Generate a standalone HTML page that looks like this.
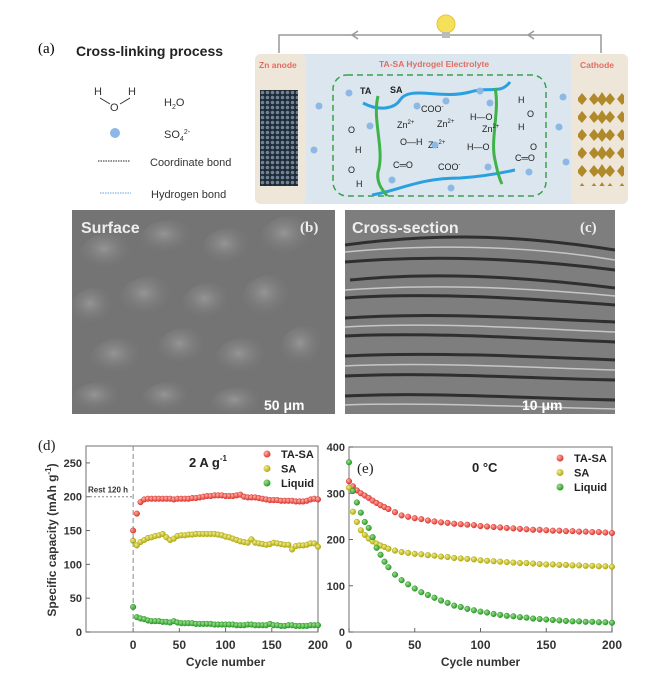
<!DOCTYPE html>
<html><head><meta charset="utf-8">
<style>
body{margin:0;background:#fff;}
#root{position:relative;width:650px;height:684px;overflow:hidden;font-family:"Liberation Sans",sans-serif;}
</style></head>
<body>
<div id="root">
<svg width="650" height="684" style="position:absolute;left:0;top:0">
<defs>
<radialGradient id="gr" cx="35%" cy="35%" r="65%"><stop offset="0" stop-color="#ffb0a8"/><stop offset="1" stop-color="#e03a2e"/></radialGradient>
<radialGradient id="gy" cx="35%" cy="35%" r="65%"><stop offset="0" stop-color="#f0ec90"/><stop offset="1" stop-color="#b5aa12"/></radialGradient>
<radialGradient id="gg" cx="35%" cy="35%" r="65%"><stop offset="0" stop-color="#9ee08e"/><stop offset="1" stop-color="#2d9a2a"/></radialGradient>
<radialGradient id="blob" cx="40%" cy="35%" r="60%"><stop offset="0" stop-color="#959595"/><stop offset="1" stop-color="#6a6a6a" stop-opacity="0"/></radialGradient>
<clipPath id="clipb"><rect x="72" y="210" width="263" height="204"/></clipPath>
<clipPath id="clipc"><rect x="345" y="210" width="270" height="204"/></clipPath>
<pattern id="zn" width="5" height="5" patternUnits="userSpaceOnUse"><rect width="5" height="5" fill="#1f2a36"/><circle cx="2.5" cy="2.5" r="1.8" fill="#6f8396"/></pattern>
<pattern id="cat" width="28" height="18" patternUnits="userSpaceOnUse"><path d="M1 9 L6 3 L10 8 L14 2 L18 8 L22 3 L27 9 L22 15 L18 11 L14 16 L10 11 L6 15Z" fill="#b08a2a"/></pattern>
</defs>
<text x="38" y="53" font-family="Liberation Serif" font-size="15">(a)</text>
<text x="76" y="56" font-size="14" font-weight="bold" fill="#222">Cross-linking process</text>
<g font-size="11" fill="#333">
<text x="94" y="95">H</text><text x="128" y="95">H</text><text x="110" y="111">O</text>
<line x1="100" y1="98" x2="110" y2="104" stroke="#333"/><line x1="130" y1="98" x2="120" y2="104" stroke="#333"/>
<text x="164" y="106">H<tspan font-size="7" dy="3">2</tspan><tspan dy="-3">O</tspan></text></g>
<g><circle cx="115" cy="133" r="5" fill="#8db8e6"/>
<text x="164" y="138" font-size="11" fill="#333">SO<tspan font-size="7" dy="3">4</tspan><tspan font-size="7" dy="-7">2-</tspan></text></g>
<g><line x1="98" y1="161" x2="130" y2="161" stroke="#222" stroke-dasharray="1.5 1"/><text x="150" y="166" font-size="11" fill="#333">Coordinate bond</text></g>
<g><line x1="100" y1="193" x2="131" y2="193" stroke="#6aa0e0" stroke-dasharray="1.5 1"/><text x="151" y="198" font-size="11" fill="#333">Hydrogen bond</text></g>
<g>
<path d="M279 53 V35 H601 V53" fill="none" stroke="#999" stroke-width="1.5"/>
<path d="M358 31 L352 35 L358 39 M534 31 L528 35 L534 39" fill="none" stroke="#999" stroke-width="1.5"/>
<circle cx="446" cy="24" r="9" fill="#f6e05a" stroke="#e8c23c"/><rect x="442" y="32" width="8" height="6" fill="#bbb"/>
<rect x="255" y="54" width="373" height="150" rx="6" fill="#dbe6ee"/>
<rect x="255" y="54" width="51" height="150" rx="6" fill="#efe6da"/>
<rect x="571" y="54" width="57" height="150" rx="6" fill="#efe6da"/>
<text x="259" y="68" font-size="8.5" fill="#e26c62" font-weight="bold">Zn anode</text>
<text x="379" y="67" font-size="8.5" fill="#e26c62" font-weight="bold">TA-SA Hydrogel Electrolyte</text>
<text x="580" y="68" font-size="8.5" fill="#e26c62" font-weight="bold">Cathode</text>
<rect x="260" y="90" width="38" height="96" fill="url(#zn)"/>
<rect x="578" y="90" width="46" height="96" fill="url(#cat)"/>
<rect x="333" y="75" width="213" height="121" rx="14" fill="none" stroke="#3aa24a" stroke-width="1.5" stroke-dasharray="6 4"/>
<path d="M363 103 C380 112 395 108 400 100 C410 85 440 100 470 92 C490 86 500 95 510 82" stroke="#2aa0e0" stroke-width="3" fill="none"/>
<path d="M372 195 C400 190 420 178 460 178 C490 176 505 172 515 170" stroke="#2aa0e0" stroke-width="3" fill="none"/>
<path d="M378 96 C372 120 385 150 378 172 C376 185 385 192 387 196" stroke="#3fb24a" stroke-width="3" fill="none"/>
<path d="M495 88 C500 110 490 140 495 160 C498 175 500 180 502 184" stroke="#3fb24a" stroke-width="3" fill="none"/>
<g font-size="9" fill="#222"><text x="360" y="94" font-weight="bold">TA</text><text x="390" y="93" font-weight="bold">SA</text>
<text x="421" y="112">COO<tspan font-size="6" dy="-4">-</tspan></text><text x="437" y="127">Zn<tspan font-size="6" dy="-4">2+</tspan></text>
<text x="397" y="128">Zn<tspan font-size="6" dy="-4">2+</tspan></text><text x="482" y="132">Zn<tspan font-size="6" dy="-4">2+</tspan></text>
<text x="428" y="148">Zn<tspan font-size="6" dy="-4">2+</tspan></text><text x="438" y="170">COO<tspan font-size="6" dy="-4">-</tspan></text>
<text x="348" y="133">O</text><text x="355" y="153">H</text><text x="348" y="173">O</text><text x="356" y="187">H</text>
<text x="518" y="103">H</text><text x="527" y="117">O</text><text x="518" y="130">H</text><text x="530" y="150">O</text>
<text x="400" y="145">O—H</text><text x="393" y="168">C═O</text><text x="467" y="150">H—O</text><text x="470" y="120">H—O</text><text x="515" y="161">C═O</text></g>
<g fill="#8db8e6"><circle cx="349" cy="93" r="3.5"/><circle cx="319" cy="106" r="3.5"/><circle cx="314" cy="150" r="3.5"/><circle cx="370" cy="126" r="3.5"/><circle cx="417" cy="106" r="3.5"/><circle cx="446" cy="101" r="3.5"/><circle cx="480" cy="91" r="3.5"/><circle cx="490" cy="103" r="3.5"/><circle cx="563" cy="97" r="3.5"/><circle cx="559" cy="127" r="3.5"/><circle cx="566" cy="162" r="3.5"/><circle cx="529" cy="172" r="3.5"/><circle cx="435" cy="145" r="3.5"/><circle cx="392" cy="180" r="3.5"/><circle cx="451" cy="188" r="3.5"/><circle cx="488" cy="167" r="3.5"/></g>
</g>
<g>
<rect x="72" y="210" width="263" height="204" fill="#747474"/>
<g fill="url(#blob)" clip-path="url(#clipb)">
<ellipse cx="110" cy="255" rx="30" ry="22"/><ellipse cx="170" cy="240" rx="30" ry="20"/><ellipse cx="230" cy="250" rx="28" ry="22"/><ellipse cx="290" cy="240" rx="30" ry="24"/>
<ellipse cx="95" cy="310" rx="25" ry="22"/><ellipse cx="150" cy="300" rx="30" ry="24"/><ellipse cx="210" cy="305" rx="28" ry="22"/><ellipse cx="270" cy="300" rx="28" ry="25"/>
<ellipse cx="120" cy="360" rx="30" ry="22"/><ellipse cx="185" cy="350" rx="28" ry="22"/><ellipse cx="245" cy="360" rx="30" ry="22"/><ellipse cx="305" cy="350" rx="25" ry="24"/>
<ellipse cx="100" cy="400" rx="28" ry="18"/><ellipse cx="170" cy="400" rx="28" ry="18"/><ellipse cx="240" cy="405" rx="30" ry="18"/></g>
<text x="81" y="233" font-size="16" font-weight="bold" fill="#eee">Surface</text>
<text x="300" y="232" font-family="Liberation Serif" font-size="15" font-weight="bold" fill="#eee">(b)</text>
<text x="264" y="410" font-size="14" font-weight="bold" fill="#fff">50 μm</text>
<rect x="254" y="415" width="64" height="4" fill="#fff"/>
</g>
<g>
<rect x="345" y="210" width="270" height="204" fill="#7e7e7e"/>
<g clip-path="url(#clipc)">
<g stroke="#222" stroke-width="3" fill="none" opacity="0.85">
<path d="M345 245 C420 235 500 232 615 250"/><path d="M345 262 C430 255 520 258 615 270"/><path d="M350 280 C430 272 520 276 615 288"/>
<path d="M345 298 C430 292 520 298 615 305"/><path d="M345 318 C440 312 520 318 615 322"/><path d="M345 336 C430 332 520 338 615 342"/>
<path d="M345 356 C430 352 520 356 615 360"/><path d="M345 376 C430 372 520 378 615 380"/><path d="M345 396 C430 392 520 398 615 400"/></g>
<g stroke="#d8d8d8" stroke-width="1.5" fill="none" opacity="0.8">
<path d="M345 252 C420 245 520 244 615 260"/><path d="M345 290 C430 284 520 287 615 296"/><path d="M345 327 C430 322 520 328 615 332"/><path d="M345 366 C430 362 520 367 615 370"/><path d="M345 405 C430 402 520 407 615 409"/></g></g>
<text x="352" y="233" font-size="16" font-weight="bold" fill="#eee">Cross-section</text>
<text x="580" y="232" font-family="Liberation Serif" font-size="15" font-weight="bold" fill="#eee">(c)</text>
<text x="522" y="410" font-size="14" font-weight="bold" fill="#fff">10 μm</text>
<rect x="508" y="415" width="86" height="4" fill="#fff"/>
</g>
<g id="chartd"></g>
<g id="charte"></g>
</svg>
</div>
<script>
const dCycles=[0,4,8,12,16,20,24,28,32,36,40,44,48,52,56,60,64,68,72,76,80,84,88,92,96,100,104,108,112,116,120,124,128,132,136,140,144,148,152,156,160,164,168,172,176,180,184,188,192,196,200];
const dTASA=[150,175,192,196,197,197,197,197,197,197,197,196,197,197,197,197,198,198,199,200,201,201,202,202,202,201,201,201,202,203,200,199,199,199,198,197,196,195,195,195,194,194,194,194,193,193,193,194,196,197,196];
const dSA=[135,128,133,136,139,140,142,143,145,140,136,138,142,143,143,144,144,145,145,145,145,145,145,144,143,141,140,138,136,134,133,132,137,132,131,130,129,130,132,131,130,129,129,122,127,128,128,129,131,131,126];
const dLiquid=[37,22,20,19,17,16,16,16,15,15,14,16,14,13,13,13,13,12,12,12,12,12,11,11,11,11,11,11,10,10,10,11,11,10,10,10,10,12,10,10,9,9,10,10,9,9,9,9,10,10,10];
const dYTicks=[0,50,100,150,200,250];
const dXTicks=[0,50,100,150,200];
const eCycles=[0,3,6,9,12,15,18,21,24,27,30,35,40,45,50,55,60,65,70,75,80,85,90,95,100,105,110,115,120,125,130,135,140,145,150,155,160,165,170,175,180,185,190,195,200];
const eTASA=[326,315,306,300,295,290,284,279,274,270,266,259,252,249,246,244,241,239,237,236,234,233,232,231,229,228,227,226,225,224,223,222,221,221,220,219,219,218,218,217,217,216,216,215,214];
const eSA=[312,260,238,220,210,202,196,191,187,184,180,176,173,171,169,168,166,165,163,162,160,159,158,157,155,154,153,152,151,150,149,149,148,147,146,146,145,145,144,144,143,143,142,142,141];
const eLiquid=[367,305,280,258,238,225,205,182,167,152,140,124,112,103,94,86,80,74,68,63,57,54,50,47,44,42,39,37,35,34,32,31,29,28,27,26,25,24,23,23,22,22,21,21,20];
const eYTicks=[0,100,200,300,400];
const eXTicks=[0,50,100,150,200];
const NS='http://www.w3.org/2000/svg';
function mk(p,tag,at){const e=document.createElementNS(NS,tag);for(const k in at)e.setAttribute(k,at[k]);p.appendChild(e);return e;}
function scale(d0,d1,r0,r1){return v=>r0+(v-d0)/(d1-d0)*(r1-r0);}
function chart(g,o){
 const x=scale(o.xd[0],o.xd[1],o.L,o.R), y=scale(o.yd[0],o.yd[1],o.B,o.T);
 const fr=mk(g,'rect',{x:o.L,y:o.T,width:o.R-o.L,height:o.B-o.T,fill:'none',stroke:'#888','stroke-width':1.2});
 
 
 o.yt.forEach(v=>{mk(g,'line',{x1:o.L,x2:o.L+4,y1:y(v),y2:y(v),stroke:'#666'});
  const t=mk(g,'text',{x:o.L-4,y:y(v)+4,'font-size':11,'font-weight':'bold','text-anchor':'end',fill:'#333'});t.textContent=v;
  
  });
 o.xt.forEach(v=>{mk(g,'line',{x1:x(v),x2:x(v),y1:o.B,y2:o.B-4,stroke:'#666'});
  const t=mk(g,'text',{x:x(v),y:o.B+17,'font-size':12,'font-weight':'bold','text-anchor':'middle',fill:'#333'});t.textContent=v;
  
  });
 const xl=mk(g,'text',{x:(x(0)+o.R)/2,y:o.B+34,'font-size':12,'font-weight':'bold','text-anchor':'middle',fill:'#333'});xl.textContent='Cycle number';
 
 
 o.series.forEach(s=>{const sg=mk(g,'g',{});
  
  
  o.cx.forEach((c,i)=>{const m=mk(sg,'circle',{cx:x(c),cy:y(s.v[i]),r:2.8,fill:s.f,stroke:s.c,'stroke-width':0.5});
   
   });});
 o.series.forEach((s,i)=>{const lg=mk(g,'g',{});
  
  
  mk(lg,'circle',{cx:o.lx,cy:o.ly+i*14.5,r:3.5,fill:s.f});
  const t=mk(lg,'text',{x:o.lx+14,y:o.ly+i*14.5+4,'font-size':11,'font-weight':'bold',fill:'#222'});t.textContent=s.n;});
 return {x,y};
}
const gd=document.getElementById('chartd');
const d=chart(gd,{L:86,R:318,T:446,B:632,xd:[-51,200],yd:[0,275],yt:dYTicks,xt:dXTicks,cx:dCycles,lx:267,ly:454,
 series:[{n:'TA-SA',v:dTASA,f:'url(#gr)',c:'#d33'},{n:'SA',v:dSA,f:'url(#gy)',c:'#aa0'},{n:'Liquid',v:dLiquid,f:'url(#gg)',c:'#292'}]});
mk(gd,'line',{x1:d.x(0),x2:d.x(0),y1:446,y2:632,stroke:'#888','stroke-dasharray':'5 3'});
mk(gd,'line',{x1:86,x2:d.x(0),y1:d.y(200),y2:d.y(200),stroke:'#888','stroke-dasharray':'2 2'});
let t=mk(gd,'text',{x:88,y:d.y(200)-4,'font-size':8,'font-weight':'bold',fill:'#333'});t.textContent='Rest 120 h';


t=mk(gd,'text',{x:189,y:467,'font-size':13,'font-weight':'bold',fill:'#222'});t.innerHTML='2 A g<tspan font-size="8" dy="-6">-1</tspan>';


t=mk(gd,'text',{x:38,y:450,'font-size':15,'font-family':'Liberation Serif',fill:'#222'});t.textContent='(d)';


t=mk(gd,'text',{x:0,y:0,'font-size':12,'font-weight':'bold',fill:'#333','text-anchor':'middle',transform:'translate(56,540) rotate(-90)'});t.innerHTML='Specific capacity (mAh g<tspan font-size="8" dy="-5">-1</tspan><tspan dy="5">)</tspan>';


const ge=document.getElementById('charte');
chart(ge,{L:349,R:612,T:447,B:632,xd:[0,200],yd:[0,400],yt:eYTicks,xt:eXTicks,cx:eCycles,lx:560,ly:458,
 series:[{n:'TA-SA',v:eTASA,f:'url(#gr)',c:'#d33'},{n:'SA',v:eSA,f:'url(#gy)',c:'#aa0'},{n:'Liquid',v:eLiquid,f:'url(#gg)',c:'#292'}]});
t=mk(ge,'text',{x:357,y:473,'font-size':15,'font-family':'Liberation Serif',fill:'#222'});t.textContent='(e)';


t=mk(ge,'text',{x:472,y:472,'font-size':13,'font-weight':'bold',fill:'#222'});t.textContent='0 °C';


</script>
</body></html>
